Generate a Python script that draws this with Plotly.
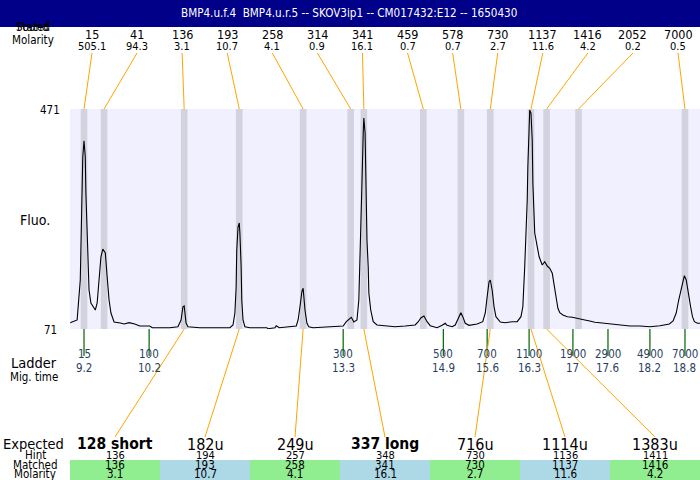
import plotly.graph_objects as go

# electropherogram trace (migration time s, fluorescence)
trace_time = [8.98, 9.09, 9.14, 9.15, 9.17, 9.18, 9.20, 9.22, 9.23, 9.25, 9.26, 9.28, 9.31,
              9.38, 9.41, 9.44, 9.47, 9.50, 9.54, 9.57, 9.60, 9.63, 9.68, 9.78, 9.84, 9.92,
              10.01, 10.09, 10.25, 10.29, 10.57, 10.70, 10.75, 10.78, 10.80, 10.81, 10.83,
              10.86, 11.05, 11.53, 11.58, 11.61, 11.63, 11.64, 11.66, 11.68, 11.69, 11.71,
              11.72, 11.74, 11.77, 11.85, 12.12, 12.14, 12.25, 12.27, 12.32, 12.59, 12.62,
              12.65, 12.68, 12.70, 12.71, 12.73, 12.76, 12.79, 12.86, 13.29, 13.34, 13.39,
              13.47, 13.51, 13.56, 13.59, 13.61, 13.62, 13.64, 13.66, 13.67, 13.69, 13.70,
              13.72, 13.74, 13.75, 13.78, 13.82, 13.88, 14.01, 14.17, 14.33, 14.49, 14.54,
              14.58, 14.63, 14.68, 14.73, 14.84, 14.92, 14.97, 15.00, 15.08, 15.13, 15.17,
              15.22, 15.25, 15.29, 15.35, 15.48, 15.57, 15.61, 15.64, 15.67, 15.69, 15.72,
              15.75, 15.78, 15.85, 15.93, 16.04, 16.12, 16.18, 16.21, 16.24, 16.26, 16.28,
              16.29, 16.31, 16.32, 16.34, 16.36, 16.37, 16.39, 16.40, 16.44, 16.47, 16.52,
              16.55, 16.56, 16.60, 16.64, 16.68, 16.71, 16.74, 16.77, 16.80, 16.85, 16.92,
              17.00, 17.06, 17.12, 17.20, 17.28, 17.36, 17.44, 17.60, 17.76, 17.92, 18.08,
              18.24, 18.40, 18.55, 18.61, 18.66, 18.70, 18.75, 18.79, 18.82, 18.85, 18.89,
              18.92, 18.95, 19.00, 19.04]
trace_fluo = [82.5, 87.4, 160.0, 232.8, 318.2, 383.7, 413.3, 383.7, 318.2, 245.5, 183.7, 141.9, 118.3,
              105.5, 118.3, 160.1, 201.9, 216.4, 209.2, 165.5, 123.7, 100.1, 83.7, 81.9, 80.1, 82.5,
              80.1, 76.5, 76.5, 73.4, 73.4, 75.2, 87.4, 111.5, 112.8, 102.5, 81.9,
              75.2, 73.4, 73.4, 78.3, 100.0, 147.0, 214.6, 256.4, 263.7, 245.5, 183.7,
              123.7, 87.4, 75.2, 73.4, 73.4, 71.5, 73.4, 77.0, 73.4, 76.5, 87.4,
              111.5, 138.8, 145.0, 129.7, 105.5, 81.9, 75.2, 73.4, 75.2, 76.5, 84.3,
              92.3, 83.7, 87.4, 123.7, 196.4, 245.5, 336.4, 427.3, 454.6, 427.3, 336.4,
              232.8, 183.7, 136.4, 105.5, 84.3, 78.3, 76.5, 75.2, 76.5, 78.3, 84.3,
              91.0, 94.6, 84.3, 77.0, 73.4, 77.7, 81.4, 77.7, 75.2, 78.3, 87.4,
              100.6, 93.4, 81.4, 77.7, 80.0, 84.3, 100.1, 129.7, 157.0, 160.1, 141.9,
              111.5, 93.4, 83.7, 82.5, 84.3, 84.3, 93.4, 111.5, 184.3, 232.8, 305.5,
              366.0, 427.3, 469.0, 463.6, 414.6, 336.4, 275.2, 245.5, 220.6, 202.4, 187.4,
              191.5, 193.4, 185.5, 181.4, 172.3, 154.1, 129.7, 108.6, 100.6, 96.5, 93.4,
              92.3, 90.5, 88.6, 87.4, 85.5, 83.2, 82.5, 80.1, 78.3, 76.5, 76.5,
              75.2, 77.0, 80.1, 85.5, 100.1, 123.7, 147.9, 167.9, 160.1, 135.9, 111.5,
              93.4, 84.3, 81.4, 81.4]

# found peaks
peak_size = [15, 41, 136, 193, 258, 314, 341, 459, 578, 730, 1137, 1416, 2052, 7000]
peak_molarity = ["505.1", "94.3", "3.1", "10.7", "4.1", "0.9", "16.1", "0.7", "0.7", "2.7",
                 "11.6", "4.2", "0.2", "0.5"]
peak_time = [9.20, 9.52, 10.80, 11.68, 12.70, 13.46, 13.67, 14.62, 15.22, 15.69, 16.34,
             16.59, 17.10, 18.80]

# ladder
ladder_size = [15, 100, 300, 500, 700, 1100, 1900, 2900, 4900, 7000]
ladder_time = [9.20, 10.24, 13.34, 14.94, 15.64, 16.31, 17.01, 17.57, 18.24, 18.80]

# expected / matched table
expected_label = ["128 short", "182u", "249u", "337 long", "716u", "1114u", "1383u"]
hint_size = [136, 194, 257, 348, 730, 1136, 1411]
matched_size = [136, 193, 258, 341, 730, 1137, 1416]
matched_molarity = ["3.1", "10.7", "4.1", "16.1", "2.7", "11.6", "4.2"]

W, H = 700, 480
XR = [8.976, 19.04]
FLUO_RANGE = [71, 471]
FONT = "DejaVu Sans Condensed, DejaVu Sans"
ORANGE = "#FFA500"


def px(x):
    return x / W


def py(y):
    return 1 - y / H


def px2t(x):
    # layout pixel -> data time, for the connector lines
    return XR[0] + (x - 70) / 630 * (XR[1] - XR[0])


fig = go.Figure()
fig.add_trace(go.Scatter(x=trace_time, y=trace_fluo, mode="lines",
                         line=dict(color="black", width=1.1), hoverinfo="x+y"))

shapes = []
ann = []


def text(x, y, s, size=12, anchor="center", bold=False, color="black"):
    if bold:
        s = "<b>" + s + "</b>"
    ann.append(dict(x=px(x), y=py(y), xref="paper", yref="paper", text=s, showarrow=False,
                    xanchor=anchor, yanchor="middle", font=dict(family=FONT, size=size, color=color)))


# title bar
shapes.append(dict(type="rect", xref="paper", yref="paper", x0=0, x1=1, y0=py(27), y1=1,
                   fillcolor="#000088", line=dict(width=0), layer="below"))
text(349, 13, "BMP4.u.f.4  BMP4.u.r.5 -- SKOV3ip1 -- CM017432:E12 -- 1650430", 11.6, color="white")

# peak bands
for t in peak_time:
    shapes.append(dict(type="rect", xref="x", yref="y", x0=t - 0.053, x1=t + 0.053,
                       y0=FLUO_RANGE[0], y1=FLUO_RANGE[1], fillcolor="#D3D3E0",
                       line=dict(width=0), layer="below"))

# top labels with connectors
text(33, 27, "Found", 11.5)
text(33, 27, "Stated", 11.5)
text(33, 40, "Molarity", 11.5)
for i, (s, m, t) in enumerate(zip(peak_size, peak_molarity, peak_time)):
    lx = 92 + 45.08 * i
    text(lx, 35, str(s), 12.5)
    text(lx, 47, m, 11)
    shapes.append(dict(type="line", xref="x", yref="paper", x0=px2t(lx), y0=py(53),
                       x1=t, y1=py(109), line=dict(color=ORANGE, width=1)))

# y labels
text(62, 110, "471", 11.5, anchor="right")
text(59, 330, "71", 11.5, anchor="right")
text(35, 220, "Fluo.", 14)

# ladder
text(34, 363, "Ladder", 14.5)
text(34, 377, "Mig. time", 11.5)
for s, t in zip(ladder_size, ladder_time):
    shapes.append(dict(type="line", xref="x", yref="paper", x0=t, x1=t, y0=py(329), y1=py(356),
                       line=dict(color="#006400", width=1.2)))
    ann.append(dict(x=t, y=py(363), xref="x", yref="paper", text=str(s), showarrow=False,
                    font=dict(family=FONT, size=11.5)))
    ann.append(dict(x=t, y=py(377), xref="x", yref="paper", text=f"{round(t, 1):g}",
                    showarrow=False, font=dict(family=FONT, size=11.5)))

# expected / matched table
text(33, 444, "Expected", 14.5)
text(35, 455, "Hint", 11.5)
text(35, 465, "Matched", 11.5)
text(35, 474, "Molarity", 11.5)
for i, (e, h, m, mol) in enumerate(zip(expected_label, hint_size, matched_size, matched_molarity)):
    cx = 115 + 90 * i
    shapes.append(dict(type="rect", xref="paper", yref="paper", x0=px(70 + 90 * i),
                       x1=px(160 + 90 * i), y0=0, y1=py(460),
                       fillcolor="#90EE90" if i % 2 == 0 else "#ADD8E6", line=dict(width=0)))
    bold = "short" in e or "long" in e
    text(cx, 444, e, 15.5 if bold else 16, bold=bold)
    text(cx, 455, str(h), 11)
    text(cx, 465, str(m), 11.5)
    text(cx, 474, mol, 11.5)
    t = peak_time[peak_size.index(m)]
    shapes.append(dict(type="line", xref="x", yref="paper", x0=t, y0=py(329),
                       x1=px2t(cx), y1=py(437), line=dict(color=ORANGE, width=1)))

fig.update_layout(
    width=W, height=H, margin=dict(l=0, r=0, t=0, b=0),
    paper_bgcolor="white", plot_bgcolor="#F0F0FF", showlegend=False,
    xaxis=dict(domain=[0.1, 1.0], range=XR, showgrid=False, zeroline=False,
               showticklabels=False, ticks=""),
    yaxis=dict(domain=[py(329), py(109)], range=FLUO_RANGE, showgrid=False,
               zeroline=False, showticklabels=False, ticks=""),
    shapes=shapes, annotations=ann,
)

# drop the default page margin so the figure sits at the window's corner
fig.write_html("out.html", config={"displayModeBar": False},
               post_script="document.body.style.margin='0';document.body.style.overflow='hidden';")
